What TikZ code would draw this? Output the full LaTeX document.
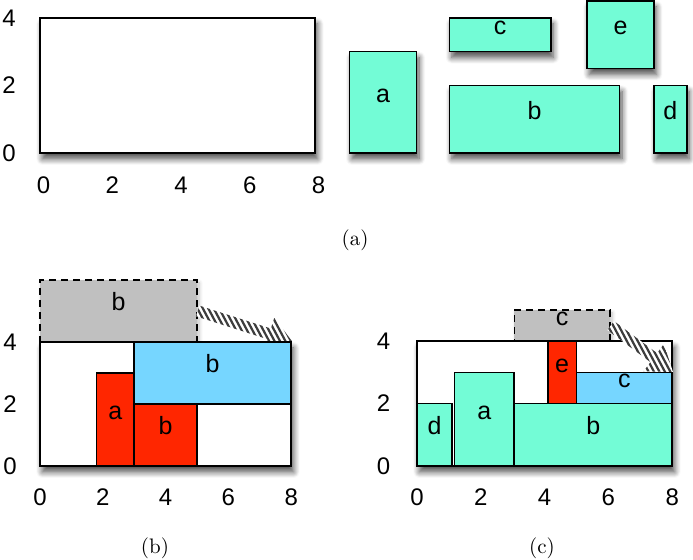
\documentclass[tikz,border=0pt]{standalone}
\usepackage{fontspec}
\setsansfont{Liberation Sans}
\usetikzlibrary{calc, fit, shadows, shadows.blur}
\definecolor{spindrift}{RGB}{115, 252, 214}
\definecolor{skyblue}{RGB}{118, 214, 255}
\definecolor{maraschino}{RGB}{255, 38, 0}
\definecolor{magnesium}{RGB}{192, 192, 192}
\definecolor{hatchgray}{RGB}{60, 60, 60}

% fat hatched arrow from #1 to #2
\newcommand{\fatarrow}[2]{%
  \path ($(#2)!12pt!(#1)$) coordinate (ah) ($(#1)!0.5!(#2)$) coordinate (am);
  \begin{scope}
    \clip ($(#1)!2.8pt!90:(#2)$) -- ($(ah)!2.8pt!-90:(#1)$) -- ($(ah)!8.5pt!-90:(#1)$) -- (#2)
      -- ($(ah)!8.5pt!90:(#1)$) -- ($(ah)!2.8pt!90:(#1)$) -- ($(#1)!2.8pt!-90:(#2)$) -- cycle;
    \fill[white] (am) circle (40pt);
    \foreach \k in {-18,...,18}
      \draw[hatchgray, line width=1.1pt] ($(am)+(\k*2.72pt,0)+(-14pt,26.4pt)$) -- ($(am)+(\k*2.72pt,0)+(14pt,-26.4pt)$);
  \end{scope}}

\begin{document}
\begin{tikzpicture}[font=\sffamily\fontsize{12.5}{14}\selectfont,
    box/.style={draw=black, line width=0.8pt, inner sep=0pt, fit={#1}},
    shadowed/.style={blur shadow={shadow xshift=1.2pt, shadow yshift=-3pt, shadow blur radius=3pt, shadow blur steps=8, shadow opacity=70}},
    piece/.style={box={#1}, fill=spindrift, shadowed},
    ghost/.style={draw=black, line width=0.7pt, dash pattern=on 3.5pt off 2.5pt, inner sep=0pt, fill=magnesium, fit={#1},
      blur shadow={shadow xshift=1pt, shadow yshift=-1.5pt, shadow blur radius=2pt, shadow blur steps=6, shadow opacity=25}},
    tick/.style={font=\sffamily\fontsize{12}{14}\selectfont}]
    \useasboundingbox (0,0) rectangle (346.5pt,280pt);

    % (a) the strip and the pieces
    \begin{scope}[shift={(20pt,203.5pt)}, x=17.2pt, y=16.9pt]
        \node[box={(0,0) (8,4)}, fill=white, shadowed] (strip1) {};
        \node[piece={(9,0) (10.95,3)}] (a1) {a};
        \node[piece={(11.9,0) (16.85,2)}] (b1) {b};
        \node[piece={(11.9,3) (14.85,4)}] (c1) {c};
        \node[piece={(17.85,0) (18.8,2)}] (d1) {d};
        \node[piece={(15.9,2.5) (17.85,4.5)}] (e1) {e};
        \foreach \x in {0,2,...,8} \node[tick] (x1\x) at (\x+0.1,-0.95) {\x};
        \foreach \y in {0,2,4} \node[tick] (y1\y) at (-0.9,\y) {\y};
    \end{scope}
    \node (capa) at (177.5pt,160pt) {\rmfamily\fontsize{10.5}{12}\selectfont(a)};

    % (b)
    \begin{scope}[shift={(20pt,47pt)}, x=15.7pt, y=15.5pt]
        \node[ghost={(0,4) (5,6)}] (bold2) {b};
        \node[box={(0,0) (8,4)}, fill=white, shadowed] (strip2) {};
        \node[box={(1.8,0) (3,3)}, fill=maraschino] (a2) {a};
        \node[box={(3,0) (5,2)}, fill=maraschino] (b2) {b};
        \fatarrow{bold2.east}{strip2.north east}
        \node[box={(3,2) (8,4)}, fill=skyblue] (bnew2) {b};
        \foreach \x in {0,2,...,8} \node[tick] (x2\x) at (\x,-1) {\x};
        \foreach \y in {0,2,4} \node[tick] (y2\y) at (-0.95,\y) {\y};
    \end{scope}
    \node (capb) at (77.5pt,6pt) {\rmfamily\fontsize{10.5}{12}\selectfont(b)};

    % (c)
    \begin{scope}[shift={(208.5pt,47pt)}, x=15.95pt, y=15.6pt]
        \node[ghost={(3.05,4) (6.05,5)}] (cold3) {c};
        \node[box={(0,0) (8,4)}, fill=white, shadowed] (strip3) {};
        \node[box={(0,0) (1.1,2)}, fill=spindrift] (d3) {d};
        \node[box={(1.17,0) (3.05,3)}, fill=spindrift] (a3) {a};
        \node[box={(3.05,0) (8,2)}, fill=spindrift] (b3) {b};
        \node[box={(4.1,2) (5,4)}, fill=maraschino] (e3) {e};
        \coordinate (tip3) at ($(strip3.south east)!0.75!(strip3.north east)$);
        \fatarrow{cold3.east}{tip3}
        \node[box={(5,2) (8,3)}, fill=skyblue] (cnew3) {c};
        \foreach \x in {0,2,...,8} \node[tick] (x3\x) at (\x,-1) {\x};
        \foreach \y in {0,2,4} \node[tick] (y3\y) at (-1.05,\y) {\y};
    \end{scope}
    \node (capc) at (271pt,6pt) {\rmfamily\fontsize{10.5}{12}\selectfont(c)};
\end{tikzpicture}
\end{document}
